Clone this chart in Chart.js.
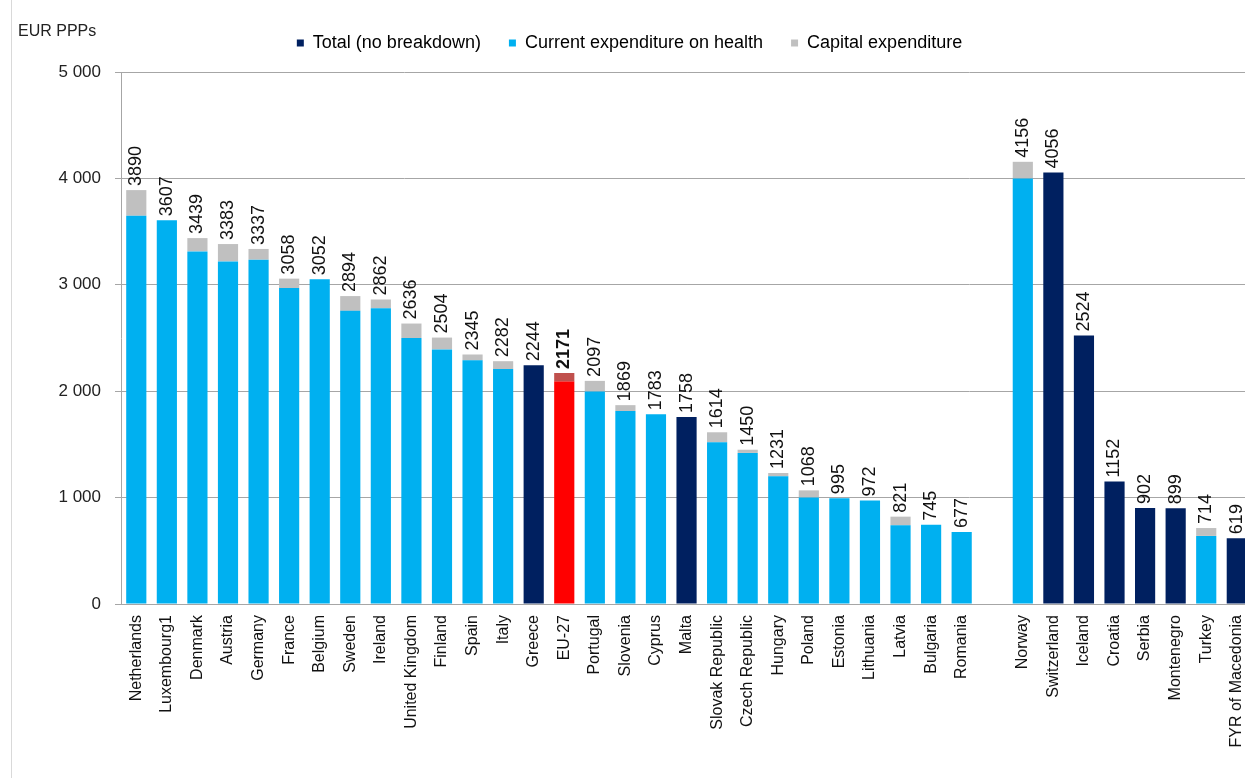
<!DOCTYPE html>
<html>
<head>
<meta charset="utf-8">
<script src="https://cdn.jsdelivr.net/npm/chart.js@4/dist/chart.umd.min.js"></script>
<style>
  html, body { margin: 0; padding: 0; background: #fff; overflow: hidden; }
  #chart { position: absolute; left: 0; top: 0; }
  #frame { position: absolute; left: 11px; top: 0; width: 1px; height: 778px; background: #d9d9d9; }
  #unit { position: absolute; left: 18px; top: 22px; font: 16px 'Liberation Sans', Arial, sans-serif; color: #222; }
</style>
</head>
<body>
<div id="frame"></div>
<canvas id="chart" width="1259" height="778"></canvas>
<div id="unit">EUR PPPs</div>
<script>
// Health expenditure per inhabitant, EUR PPPs
const categories = [
    'Netherlands', 'Luxembourg1', 'Denmark', 'Austria', 'Germany', 'France', 'Belgium',
    'Sweden', 'Ireland', 'United Kingdom', 'Finland', 'Spain', 'Italy', 'Greece', 'EU-27',
    'Portugal', 'Slovenia', 'Cyprus', 'Malta', 'Slovak Republic', 'Czech Republic', 'Hungary',
    'Poland', 'Estonia', 'Lithuania', 'Latvia', 'Bulgaria', 'Romania', '',
    'Norway', 'Switzerland', 'Iceland', 'Croatia', 'Serbia', 'Montenegro', 'Turkey', 'FYR of Macedonia'
];

const totalNoBreakdown = [
    null, null, null, null, null, null, null,
    null, null, null, null, null, null, 2244, null,
    null, null, null, 1758, null, null, null,
    null, null, null, null, null, null, null,
    null, 4056, 2524, 1152, 902, 899, null, 619
];

const currentExpenditure = [
    3649, 3607, 3314, 3220, 3236, 2970, 3052,
    2755, 2780, 2500, 2393, 2290, 2208, null, 2090,
    1997, 1814, 1783, null, 1520, 1420, 1200,
    1000, 995, 972, 740, 745, 677, null,
    4000, null, null, null, null, null, 640, null
];

const capitalExpenditure = [
    241, 0, 125, 163, 101, 88, 0,
    139, 82, 136, 111, 55, 74, null, 81,
    100, 55, 0, null, 94, 30, 31,
    68, 0, 0, 81, 0, 0, null,
    156, null, null, null, null, null, 74, null
];

const yTicks = [0, 1000, 2000, 3000, 4000, 5000];

const highlight = 'EU-27';
const NAVY = '#002060';
const BLUE = '#00B0F0';
const GREY = '#C0C0C0';

const FONT = "'Liberation Sans', Arial, sans-serif";

const currentColors = categories.map(c => c === highlight ? '#FF0000' : BLUE);
const capitalColors = categories.map(c => c === highlight ? '#C0504D' : GREY);

// total printed above each bar
const valueLabels = {
    id: 'valueLabels',
    afterDatasetsDraw(chart) {
        const ctx = chart.ctx;
        const x = chart.scales.x;
        const y = chart.scales.y;
        ctx.save();
        ctx.fillStyle = '#111';
        categories.forEach((cat, i) => {
            let sum = 0;
            chart.data.datasets.forEach(ds => { sum += ds.data[i] || 0; });
            if (!sum) return;
            ctx.save();
            ctx.translate(x.getPixelForValue(i), y.getPixelForValue(sum) - 4);
            ctx.rotate(-Math.PI / 2);
            ctx.font = (cat === highlight ? 'bold ' : '') + '18px ' + FONT;
            ctx.textAlign = 'left';
            ctx.textBaseline = 'middle';
            ctx.fillText(String(sum), 0, 0);
            ctx.restore();
        });
        ctx.restore();
    }
};

// extra room between the legend row and the plot
const legendGap = {
    id: 'legendGap',
    beforeLayout(chart) {
        const lg = chart.legend;
        if (!lg || lg._gapAdded) return;
        const fit = lg.fit;
        lg.fit = function () { fit.call(this); this.height += 10; };
        lg._gapAdded = true;
    }
};

new Chart(document.getElementById('chart'), {
    type: 'bar',
    data: {
        labels: categories,
        datasets: [
            { label: 'Total (no breakdown)', data: totalNoBreakdown, backgroundColor: NAVY },
            { label: 'Current expenditure on health', data: currentExpenditure, backgroundColor: currentColors },
            { label: 'Capital expenditure', data: capitalExpenditure, backgroundColor: capitalColors }
        ]
    },
    options: {
        responsive: false,
        animation: false,
        layout: { padding: { top: 6, left: 0, right: 0, bottom: 0 } },
        datasets: { bar: { categoryPercentage: 1, barPercentage: 0.66, grouped: false } },
        plugins: {
            legend: {
                position: 'top',
                labels: {
                    boxWidth: 7,
                    boxHeight: 7,
                    padding: 28,
                    color: '#111',
                    font: { family: FONT, size: 18 },
                    generateLabels(chart) {
                        return chart.data.datasets.map((ds, i) => ({
                            text: ds.label,
                            fillStyle: [NAVY, BLUE, GREY][i],
                            strokeStyle: [NAVY, BLUE, GREY][i],
                            lineWidth: 0,
                            datasetIndex: i
                        }));
                    }
                }
            },
            tooltip: { enabled: false }
        },
        scales: {
            x: {
                stacked: true,
                grid: { display: false },
                border: { color: '#A6A6A6' },
                ticks: {
                    autoSkip: false,
                    minRotation: 90,
                    maxRotation: 90,
                    color: '#111',
                    font: { family: FONT, size: 16 }
                },
                afterFit(scale) { scale.height = 174; }
            },
            y: {
                stacked: true,
                min: 0,
                max: 5000,
                afterBuildTicks(scale) { scale.ticks = yTicks.map(v => ({ value: v })); },
                grid: { color: '#A6A6A6', tickLength: 6 },
                border: { color: '#A6A6A6' },
                ticks: {
                    padding: 14,
                    color: '#222',
                    font: { family: FONT, size: 17 },
                    callback: v => String(v).replace(/\B(?=(\d{3})+(?!\d))/g, ' ')
                },
                afterFit(scale) { scale.width = 121; }
            }
        }
    },
    plugins: [valueLabels, legendGap]
});
</script>
</body>
</html>
